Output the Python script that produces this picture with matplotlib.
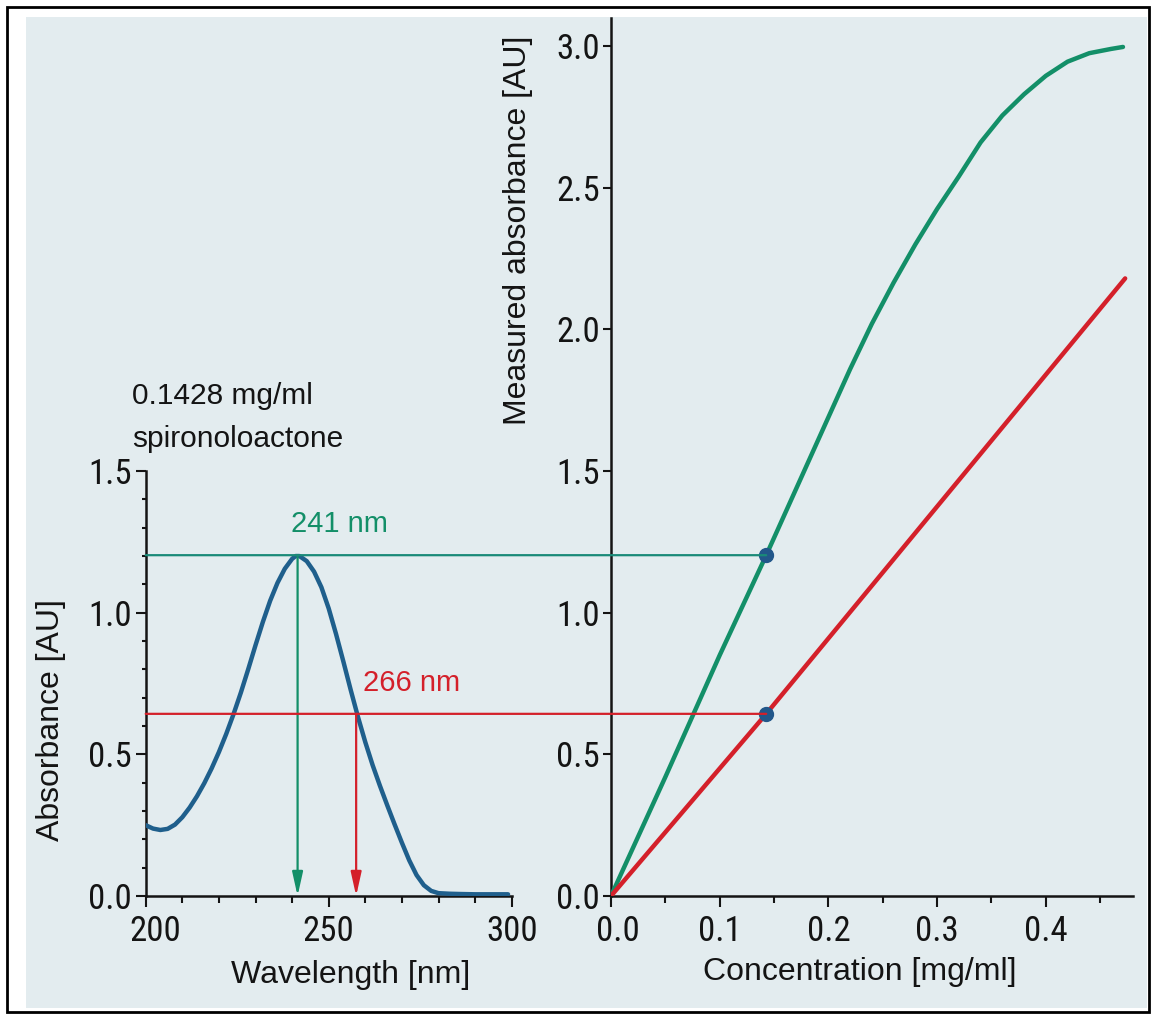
import matplotlib
matplotlib.use('Agg')
import matplotlib.pyplot as plt
from matplotlib import font_manager
from matplotlib.patches import Rectangle, ConnectionPatch
from matplotlib.transforms import ScaledTranslation
from matplotlib.ticker import MultipleLocator

# UV spectrum of spironolactone (0.1428 mg/ml)
wavelength = [200, 202, 204, 206, 208, 210, 212, 214, 216, 218, 220, 222, 224, 226, 228,
              230, 232, 234, 236, 238, 240, 241, 242, 244, 246, 248, 250, 252, 254, 256,
              258, 260, 262, 264, 266, 268, 270, 272, 274, 276, 278, 280, 283, 286, 290,
              295, 299]
absorbance = [0.250, 0.238, 0.233, 0.237, 0.252, 0.278, 0.312, 0.352, 0.398, 0.450, 0.508,
              0.572, 0.642, 0.718, 0.800, 0.885, 0.967, 1.042, 1.105, 1.155, 1.190, 1.200,
              1.200, 1.182, 1.145, 1.090, 1.015, 0.925, 0.828, 0.728, 0.632, 0.543, 0.462,
              0.389, 0.320, 0.253, 0.188, 0.126, 0.074, 0.038, 0.018, 0.010, 0.008, 0.007,
              0.006, 0.006, 0.006]

# calibration curves
conc_green = [0.0, 0.05, 0.10, 0.1428, 0.20, 0.22, 0.24, 0.26, 0.28, 0.30, 0.32, 0.34,
              0.36, 0.38, 0.40, 0.42, 0.44, 0.46, 0.471]
meas_green = [0.0, 0.42, 0.85, 1.203, 1.69, 1.86, 2.02, 2.165, 2.30, 2.425, 2.54, 2.66,
              2.755, 2.83, 2.895, 2.945, 2.975, 2.99, 2.997]
conc_red = [0.0, 0.1428, 0.473]
meas_red = [0.0, 0.643, 2.18]

sample_conc = 0.1428
peak_wl, peak_abs = 241.5, 1.203
second_wl, second_abs = 257.5, 0.643

green = '#138f68'
green_thin = '#1a8a78'
red = '#d4202a'
blue = '#1f5f8c'
dot = '#22578a'
bg = '#e3ecef'
ink = '#141414'

names = {f.name for f in font_manager.fontManager.ttflist}
regular = 'Liberation Sans' if 'Liberation Sans' in names else 'DejaVu Sans'
plt.rcParams['font.family'] = regular

# condensed face for the tick numbers, if one is installed
narrow_fp = None
for want in ('Liberation Sans Narrow', 'Roboto Condensed', 'Open Sans Condensed'):
    if want in names:
        narrow_fp = font_manager.FontProperties(family=want)
        break
if narrow_fp is None:
    for f in font_manager.fontManager.ttflist:
        if f.stretch in ('condensed', 'semi-condensed') and f.style == 'normal' \
                and f.weight in (400, 'normal', 'regular', 'book'):
            narrow_fp = font_manager.FontProperties(fname=f.fname)
            break

W, H = 1154, 1017
fig = plt.figure(figsize=(W / 100, H / 100), dpi=100)
fig.patch.set_facecolor('white')


def px_rect(x0, y0, x1, y1):
    return [x0 / W, 1 - y1 / H, (x1 - x0) / W, (y1 - y0) / H]


# scanned background + frame
fig.add_artist(Rectangle((26 / W, 1 - 1008 / H), (1147 - 26) / W, (1008 - 17) / H,
                         transform=fig.transFigure, facecolor=bg, edgecolor='none', zorder=-2))
fig.add_artist(Rectangle((6.5 / W, 1 - 1012 / H), (1149 - 6.5) / W, (1012 - 6.5) / H,
                         transform=fig.transFigure, facecolor='none', edgecolor='black',
                         lw=2, zorder=-1))

k = 283.3   # pixels per absorbance unit, same on both panels
yb = 896
ax1 = fig.add_axes(px_rect(145.7, yb - 1.5 * k, 511.7, yb))
ax2 = fig.add_axes(px_rect(611, yb - 3.1 * k, 611 + 0.48 * 1087, yb))

for ax in (ax1, ax2):
    ax.patch.set_visible(False)
    ax.spines['top'].set_visible(False)
    ax.spines['right'].set_visible(False)
    for s in ('left', 'bottom'):
        ax.spines[s].set_linewidth(1.8)
        ax.spines[s].set_color(ink)
    ax.tick_params(which='both', direction='out', width=1.5, color=ink, labelcolor=ink,
                   labelsize=23)

# left panel: spectrum
ax1.plot(wavelength, absorbance, color=blue, lw=3.2, solid_capstyle='round',
         solid_joinstyle='round', zorder=3)
ax1.set_xlim(200, 300)
ax1.set_ylim(0, 1.5)
ax1.set_xticks([200, 250, 300])
ax1.set_xticklabels(['200', '250', '300'])
ax1.xaxis.set_minor_locator(MultipleLocator(10))
ax1.set_yticks([0, 0.5, 1.0, 1.5])
ax1.set_yticklabels(['0.0', '0.5', '1.0', '1.5'])
ax1.yaxis.set_minor_locator(MultipleLocator(0.1))
ax1.tick_params(axis='x', which='major', length=8, pad=6)
ax1.tick_params(axis='x', which='minor', length=5)
ax1.tick_params(axis='y', which='major', length=7, pad=3)
ax1.tick_params(axis='y', which='minor', length=3)

ax1.annotate('', xy=(peak_wl, 0), xytext=(peak_wl, peak_abs),
             arrowprops=dict(arrowstyle='-|>,head_length=0.9,head_width=0.2',
                             color=green, lw=1.6, mutation_scale=16, shrinkA=0, shrinkB=0))
ax1.annotate('', xy=(second_wl, 0), xytext=(second_wl, second_abs),
             arrowprops=dict(arrowstyle='-|>,head_length=0.9,head_width=0.2',
                             color=red, lw=1.6, mutation_scale=16, shrinkA=0, shrinkB=0))

ax1.text(252.8, 1.313, '241 nm', color=green, fontsize=21, ha='center', va='center')
ax1.text(272.7, 0.752, '266 nm', color=red, fontsize=21, ha='center', va='center')
ax1.text(-0.037, 1.158, '0.1428 mg/ml', transform=ax1.transAxes, fontsize=21.5,
         color=ink, ha='left', va='baseline')
ax1.text(-0.037, 1.056, 'spironoloactone', transform=ax1.transAxes, fontsize=21.5,
         color=ink, ha='left', va='baseline')

ax1.set_xlabel('Wavelength [nm]', fontsize=23, color=ink, va='center')
ax1.xaxis.set_label_coords(0.560, -0.186)
ax1.set_ylabel('Absorbance [AU]', fontsize=23, color=ink, va='center')
ax1.yaxis.set_label_coords(-0.258, 0.413)

# right panel: calibration
ax2.plot(conc_green, meas_green, color=green, lw=3.2, solid_capstyle='round',
         solid_joinstyle='round', zorder=3)
ax2.plot(conc_red, meas_red, color=red, lw=3.2, solid_capstyle='round', zorder=3)
ax2.plot([sample_conc, sample_conc], [peak_abs, second_abs], 'o', ms=10, color=dot,
         zorder=5, clip_on=False)
ax2.set_xlim(0, 0.48)
ax2.set_ylim(0, 3.1)
ax2.set_xticks([0, 0.1, 0.2, 0.3, 0.4])
ax2.set_xticklabels(['0.0', '0.1', '0.2', '0.3', '0.4'])
ax2.xaxis.set_minor_locator(MultipleLocator(0.05))
ax2.set_yticks([0, 0.5, 1.0, 1.5, 2.0, 2.5, 3.0])
ax2.set_yticklabels(['0.0', '0.5', '1.0', '1.5', '2.0', '2.5', '3.0'])
ax2.tick_params(axis='x', which='major', length=8, pad=6)
ax2.tick_params(axis='x', which='minor', length=5)
ax2.tick_params(axis='y', which='major', length=6, pad=2)

ax2.set_xlabel('Concentration [mg/ml]', fontsize=23, color=ink, va='center')
ax2.xaxis.set_label_coords(0.477, -0.0865)
ax2.set_ylabel('Measured absorbance [AU]', fontsize=23, color=ink, va='center')
ax2.yaxis.set_label_coords(-0.178, 0.758)

# horizontal guide lines from spectrum to calibration curves
for level, col in ((peak_abs, green_thin), (second_abs, red)):
    con = ConnectionPatch(xyA=(200, level), coordsA=ax1.transData,
                          xyB=(sample_conc, level), coordsB=ax2.transData,
                          color=col, lw=1.6, zorder=4)
    fig.add_artist(con)

fig.canvas.draw()
for ax in (ax1, ax2):
    for lbl in ax.get_xticklabels() + ax.get_yticklabels():
        if narrow_fp is not None:
            lbl.set_fontproperties(narrow_fp)
            lbl.set_fontsize(25)
first = ax1.get_xticklabels()[0]
first.set_transform(first.get_transform() + ScaledTranslation(10 / 100, 0, fig.dpi_scale_trans))
first = ax2.get_xticklabels()[0]
first.set_transform(first.get_transform() + ScaledTranslation(7 / 100, 0, fig.dpi_scale_trans))

fig.savefig('out.png', dpi=100)
